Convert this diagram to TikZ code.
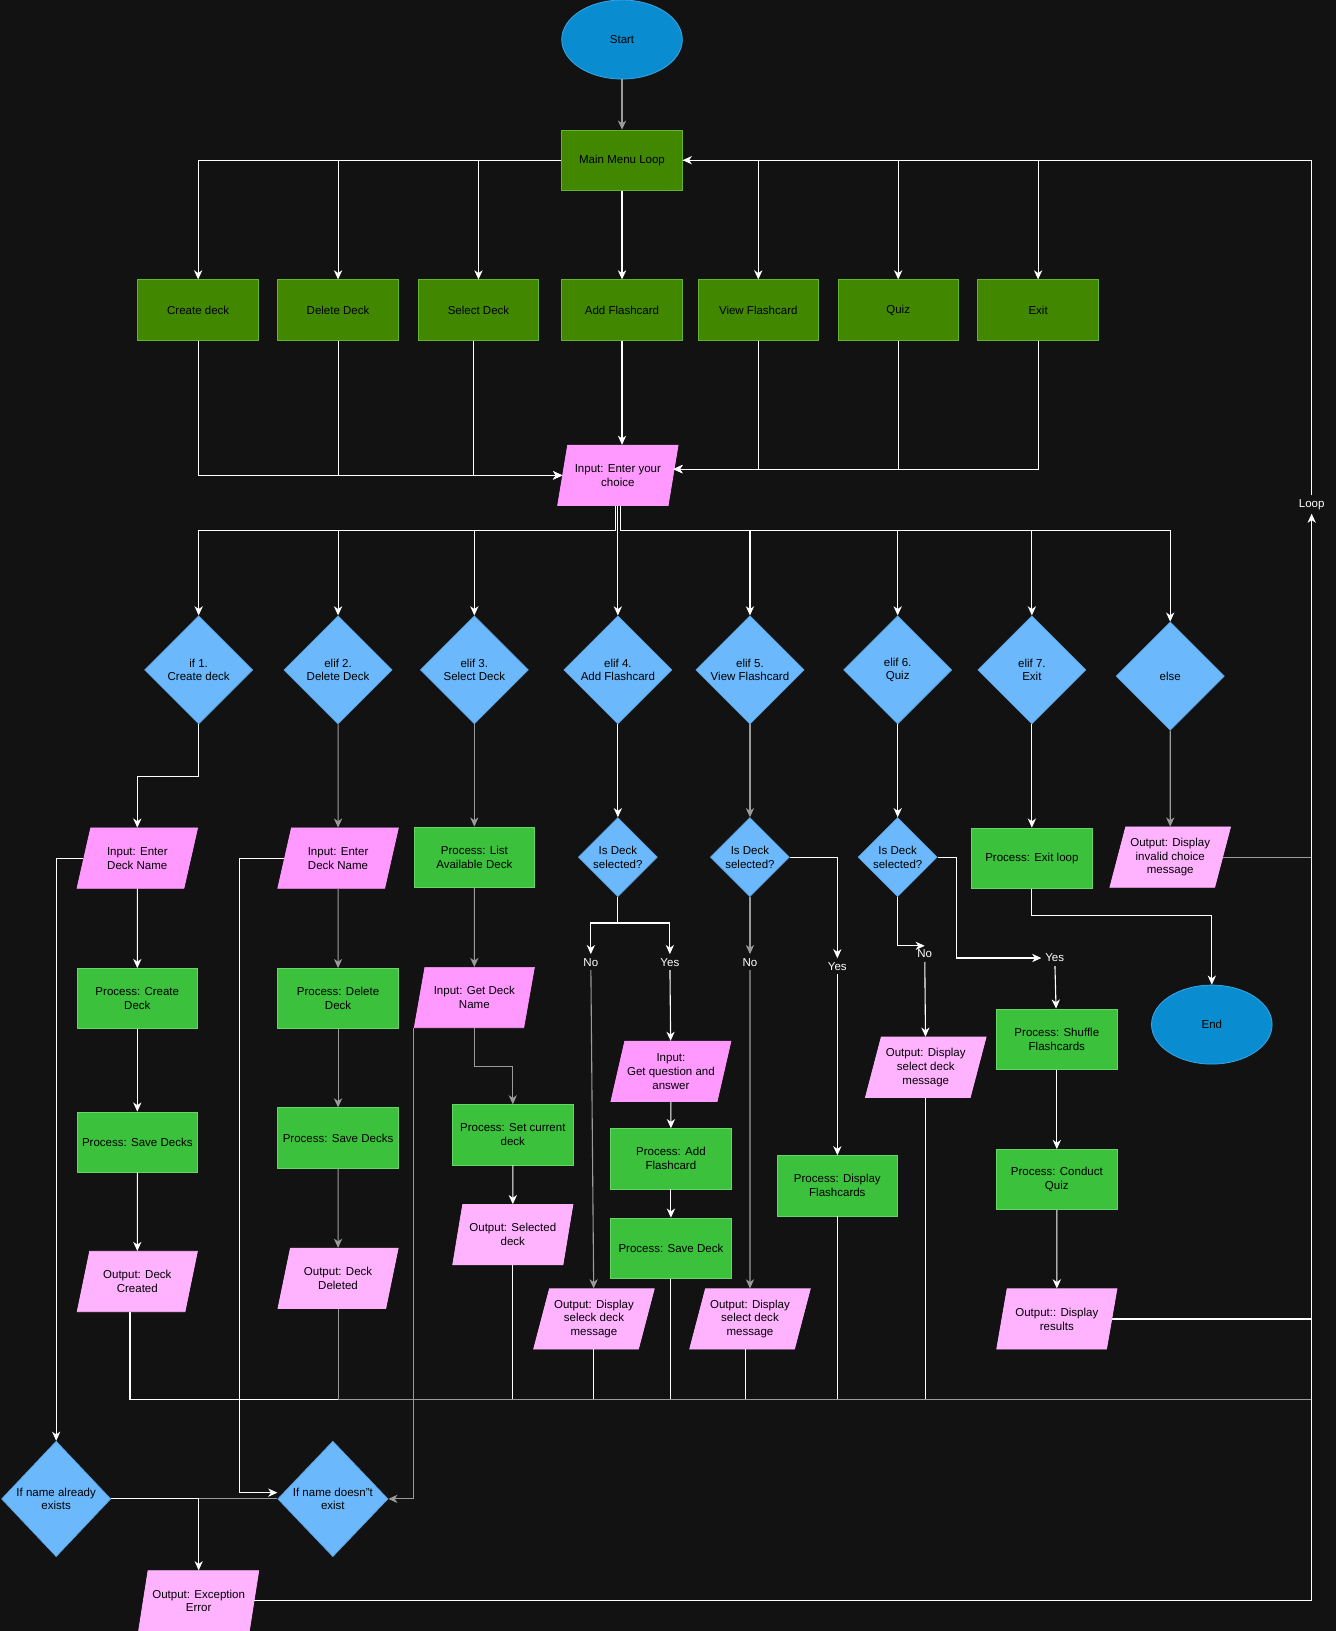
\documentclass[tikz,border=0pt]{standalone}
\usepackage{fontspec}
\setmainfont{Liberation Sans}
\usetikzlibrary{positioning, shapes.geometric, arrows.meta}

\definecolor{bg}{HTML}{121212}
\definecolor{menugreen}{HTML}{428700}
\definecolor{menuedge}{HTML}{64B32C}
\definecolor{procgreen}{HTML}{3BC13B}
\definecolor{procedge}{HTML}{66D466}
\definecolor{inpink}{HTML}{FF99FF}
\definecolor{outpink}{HTML}{FFB3FF}
\definecolor{decblue}{HTML}{6BB8FC}
\definecolor{decedge}{HTML}{5EA6E6}
\definecolor{termblue}{HTML}{0A8DD0}
\definecolor{termedge}{HTML}{3CA8EA}
\definecolor{edgegray}{HTML}{9A9A9A}

\begin{document}
\begin{tikzpicture}[x=0.02cm, y=-0.02cm,
		every node/.style={font=\fontsize{6.3}{7.6}\selectfont, align=center},
		term/.style={ellipse, draw=termedge, fill=termblue, minimum width=2.32cm, minimum height=1.52cm},
		menubox/.style={rectangle, draw=menuedge, fill=menugreen, minimum width=2.32cm, minimum height=1.16cm, inner sep=1pt},
		procbox/.style={rectangle, draw=procedge, fill=procgreen, minimum width=2.32cm, minimum height=1.16cm, inner sep=1pt},
		iobox/.style={trapezium, trapezium left angle=73, trapezium right angle=107, trapezium stretches=true,
			minimum width=2.32cm, minimum height=1.16cm, inner xsep=-2pt, inner ysep=1pt},
		inbox/.style={iobox, fill=inpink, draw=inpink},
		outbox/.style={iobox, fill=outpink, draw=outpink},
		decide/.style={diamond, draw=decedge, fill=decblue, minimum width=2.08cm, minimum height=2.08cm, inner sep=0pt},
		tag/.style={text=white, inner sep=2pt},
		wline/.style={draw=white, line width=0.6pt},
		gline/.style={draw=edgegray, line width=0.6pt},
		arr/.style={-{Stealth[length=5pt, width=4.5pt, inset=1.5pt]}}
	]
		% 背景与边界
		\useasboundingbox (0,0) rectangle (1284,1568);
		\fill[bg] (0,0) rectangle (1284,1568);
		
		% ---------------------- 开始与主菜单 ----------------------
		\node (start) [term] at (598,38) {Start};
		\node (menu) [menubox] at (598,154) {Main Menu Loop};
		
		% 菜单选项（一行七个）
		\foreach \n/\x/\txt in {m1/190.5/Create deck, m2/325/Delete Deck, m3/460/Select Deck,
			m4/598/Add Flashcard, m5/729/View Flashcard, m6/863.5/Quiz, m7/998/Exit}
		\node (\n) [menubox] at (\x,298) {\txt};
		
		\node (choice) [inbox] at (594,457) {Input: Enter your\\choice};
		
		% ---------------------- 判断（if / elif / else）----------------------
		\foreach \n/\x/\y/\txt in {d1/191/644/{if 1.\\Create deck}, d2/325/644/{elif 2.\\Delete Deck},
			d3/456/644/{elif 3.\\Select Deck}, d4/594/644/{elif 4.\\Add Flashcard},
			d5/721/644/{elif 5.\\View Flashcard}, d6/863/644/{elif 6.\\Quiz},
			d7/992/644/{elif 7.\\Exit}, d8/1125/650/{else}}
		\node (\n) [decide, label={center:\txt}] at (\x,\y) {};
		
		% ---------------------- 各分支 ----------------------
		% 1. 新建
		\node (in1) [inbox] at (132,825) {Input: Enter\\Deck Name};
		\node (pc1) [procbox] at (132,960) {Process: Create\\Deck};
		\node (sv1) [procbox] at (132,1098) {Process: Save Decks};
		\node (oc1) [outbox] at (132,1232) {Output: Deck\\Created};
		% 2. 删除
		\node (in2) [inbox] at (325,825) {Input: Enter\\Deck Name};
		\node (pd2) [procbox] at (325,960) {Process: Delete\\Deck};
		\node (sv2) [procbox] at (325,1094) {Process: Save Decks};
		\node (od2) [outbox] at (325,1229) {Output: Deck\\Deleted};
		% 3. 选择
		\node (list) [procbox] at (456,824) {Process: List\\Available Deck};
		\node (gn3) [inbox] at (456,959) {Input: Get Deck\\Name};
		\node (sc3) [procbox] at (493,1091) {Process: Set current\\deck};
		\node (os3) [outbox] at (493,1187) {Output: Selected\\deck};
		% 4. 添加
		\node (s4) [decide, minimum width=1.52cm, minimum height=1.52cm, label={center:Is Deck\\selected?}] at (594,824) {};
		\node (no4) [tag] at (568,925) {No};
		\node (yes4) [tag] at (644,925) {Yes};
		\node (om4) [outbox] at (571,1268) {Output: Display\\seleck deck\\message};
		\node (qa4) [inbox] at (645,1030) {Input:\\Get question and\\answer};
		\node (af4) [procbox] at (645,1114) {Process: Add\\Flashcard};
		\node (sd4) [procbox] at (645,1200) {Process: Save Deck};
		% 5. 查看
		\node (s5) [decide, minimum width=1.52cm, minimum height=1.52cm, label={center:Is Deck\\selected?}] at (721,824) {};
		\node (no5) [tag] at (721,925) {No};
		\node (yes5) [tag] at (805,929) {Yes};
		\node (om5) [outbox] at (721,1268) {Output: Display\\select deck\\message};
		\node (df5) [procbox] at (805,1140) {Process: Display\\Flashcards};
		% 6. 测验
		\node (s6) [decide, minimum width=1.52cm, minimum height=1.52cm, label={center:Is Deck\\selected?}] at (863,824) {};
		\node (no6) [tag] at (889,917) {No};
		\node (yes6) [tag] at (1014,921) {Yes};
		\node (om6) [outbox] at (890,1026) {Output: Display\\select deck\\message};
		\node (sh6) [procbox] at (1016,999) {Process: Shuffle\\Flashcards};
		\node (cq6) [procbox] at (1016,1134) {Process: Conduct\\Quiz};
		\node (or6) [outbox] at (1016,1268) {Output:: Display\\results};
		% 7. 退出 / else
		\node (exitp) [procbox] at (992,825) {Process: Exit loop};
		\node (stop) [term] at (1165,985) {End};
		\node (inv) [outbox] at (1125,824) {Output: Display\\invalid choice\\message};
		
		% 名称检查与异常
		\node (ex1) [decide, minimum width=2.1cm, minimum height=2.22cm, label={center:If name already\\exists}] at (54,1441) {};
		\node (ex2) [decide, minimum width=2.12cm, minimum height=2.22cm, label={center:If name doesn"t\\exist}] at (320,1441) {};
		\node (err) [outbox] at (191,1539) {Output: Exception\\Error};
		
		\node (loop) [tag] at (1261,485) {Loop};
		\coordinate (bus) at (1261,1345);
		
		% ---------------------- 连线 ----------------------
		\draw[gline, arr] (start) -- (menu);
		\foreach \n in {m1,m2,m3} \draw[wline, arr] (menu.west) -| (\n.north);
		\draw[wline, arr] (menu) -- (m4);
		\foreach \n in {m5,m6,m7} \draw[wline, arr] (menu.east) -| (\n.north);
		
		% 菜单 -> 输入
		\draw[wline, arr] (m1.south) |- (choice.west);
		\draw[wline, arr] (m2.south) |- (choice.west);
		\draw[wline, arr] ([xshift=-0.1cm]m3.south) |- (choice.west);
		\draw[wline, arr] (m4.south) -- (m4.south |- choice.north);
		\foreach \n in {m5,m6,m7} \draw[wline, arr] (\n.south) |- ([yshift=0.12cm]choice.east);
		
		% 输入 -> 各判断
		\foreach \n/\s in {d1/-0.05, d2/-0.05, d3/-0.05, d4/0, d5/0.05, d6/0.05, d7/0.05, d8/0.05}
		\draw[wline, arr] ([xshift=\s cm]choice.center |- choice.south) -- ++(0,24) -| (\n.north);
		
		% 分支 1
		\draw[wline, arr] (d1.south) -- ++(0,50) -| (in1);
		\draw[wline, arr] (in1) -- (pc1);
		\draw[wline, arr] (pc1) -- (sv1);
		\draw[wline, arr] (sv1) -- (oc1);
		% 分支 2
		\draw[gline, arr] (d2) -- (in2);
		\draw[gline, arr] (in2) -- (pd2);
		\draw[gline, arr] (pd2) -- (sv2);
		\draw[gline, arr] (sv2) -- (od2);
		% 分支 3
		\draw[gline, arr] (d3) -- (list);
		\draw[gline, arr] (list) -- (gn3);
		\draw[gline, arr] (gn3.center |- gn3.south) -- ++(0,37) -| (sc3);
		\draw[wline, arr] (sc3) -- (os3);
		% 分支 4
		\draw[wline, arr] (d4) -- (s4);
		\draw[wline, arr] (s4.south) -- ++(0,25) -| (no4);
		\draw[wline, arr] (s4.south) -- ++(0,25) -| (yes4);
		\draw[gline, arr] (no4) -- (om4);
		\draw[wline, arr] (yes4) -- (qa4);
		\draw[wline, arr] (qa4) -- (af4);
		\draw[wline, arr] (af4) -- (sd4);
		% 分支 5
		\draw[gline, arr] (d5) -- (s5);
		\draw[gline, arr] (s5) -- (no5);
		\draw[gline, arr] (no5) -- (om5);
		\draw[wline, arr] (s5.east) -| (yes5);
		\draw[wline, arr] (yes5) -- (df5);
		% 分支 6
		\draw[wline, arr] (d6) -- (s6);
		\draw[wline, arr] (s6.south) |- (no6.north);
		\draw[wline, arr] (no6) -- (om6);
		\draw[wline, arr] (s6.east) -- ++(18,0) |- (yes6.west);
		\draw[wline, arr] (yes6) -- (sh6);
		\draw[wline, arr] (sh6) -- (cq6);
		\draw[wline, arr] (cq6) -- (or6);
		% 分支 7 / else
		\draw[wline, arr] (d7) -- (exitp);
		\draw[wline, arr] (exitp.south) -- ++(0,26) -| (stop);
		\draw[gline, arr] (d8) -- (inv);
		\draw[gline] (inv.east) -- (inv.east -| loop);
		\draw[wline] (or6.east) -- (or6.east -| loop);
		
		% 汇总线 -> 回到主菜单
		\foreach \n/\s in {oc1/-0.14, os3/0, om4/0, sd4/0, om5/-0.08, df5/0, om6/0}
		\draw[wline] ([xshift=\s cm]\n.center |- \n.south) |- (bus);
		\draw[gline] (od2.center |- od2.south) |- (bus);
		\draw[wline, arr] (err.east) -| (loop);
		\draw[wline, arr] (loop) |- (menu.east);
		
		% 名称检查
		\draw[wline, arr] (in1.west) -| (ex1.north);
		\draw[wline, arr] (in2.west) -- ++(-43,0) |- ([yshift=0.12cm]ex2.west);
		\draw[gline, arr] (gn3.bottom left corner) |- (ex2.east);
		\draw[gline] (ex1.east) -- (ex2.west);
		\draw[wline, arr] (ex1.east) -| (err);
	\end{tikzpicture}
\end{document}
